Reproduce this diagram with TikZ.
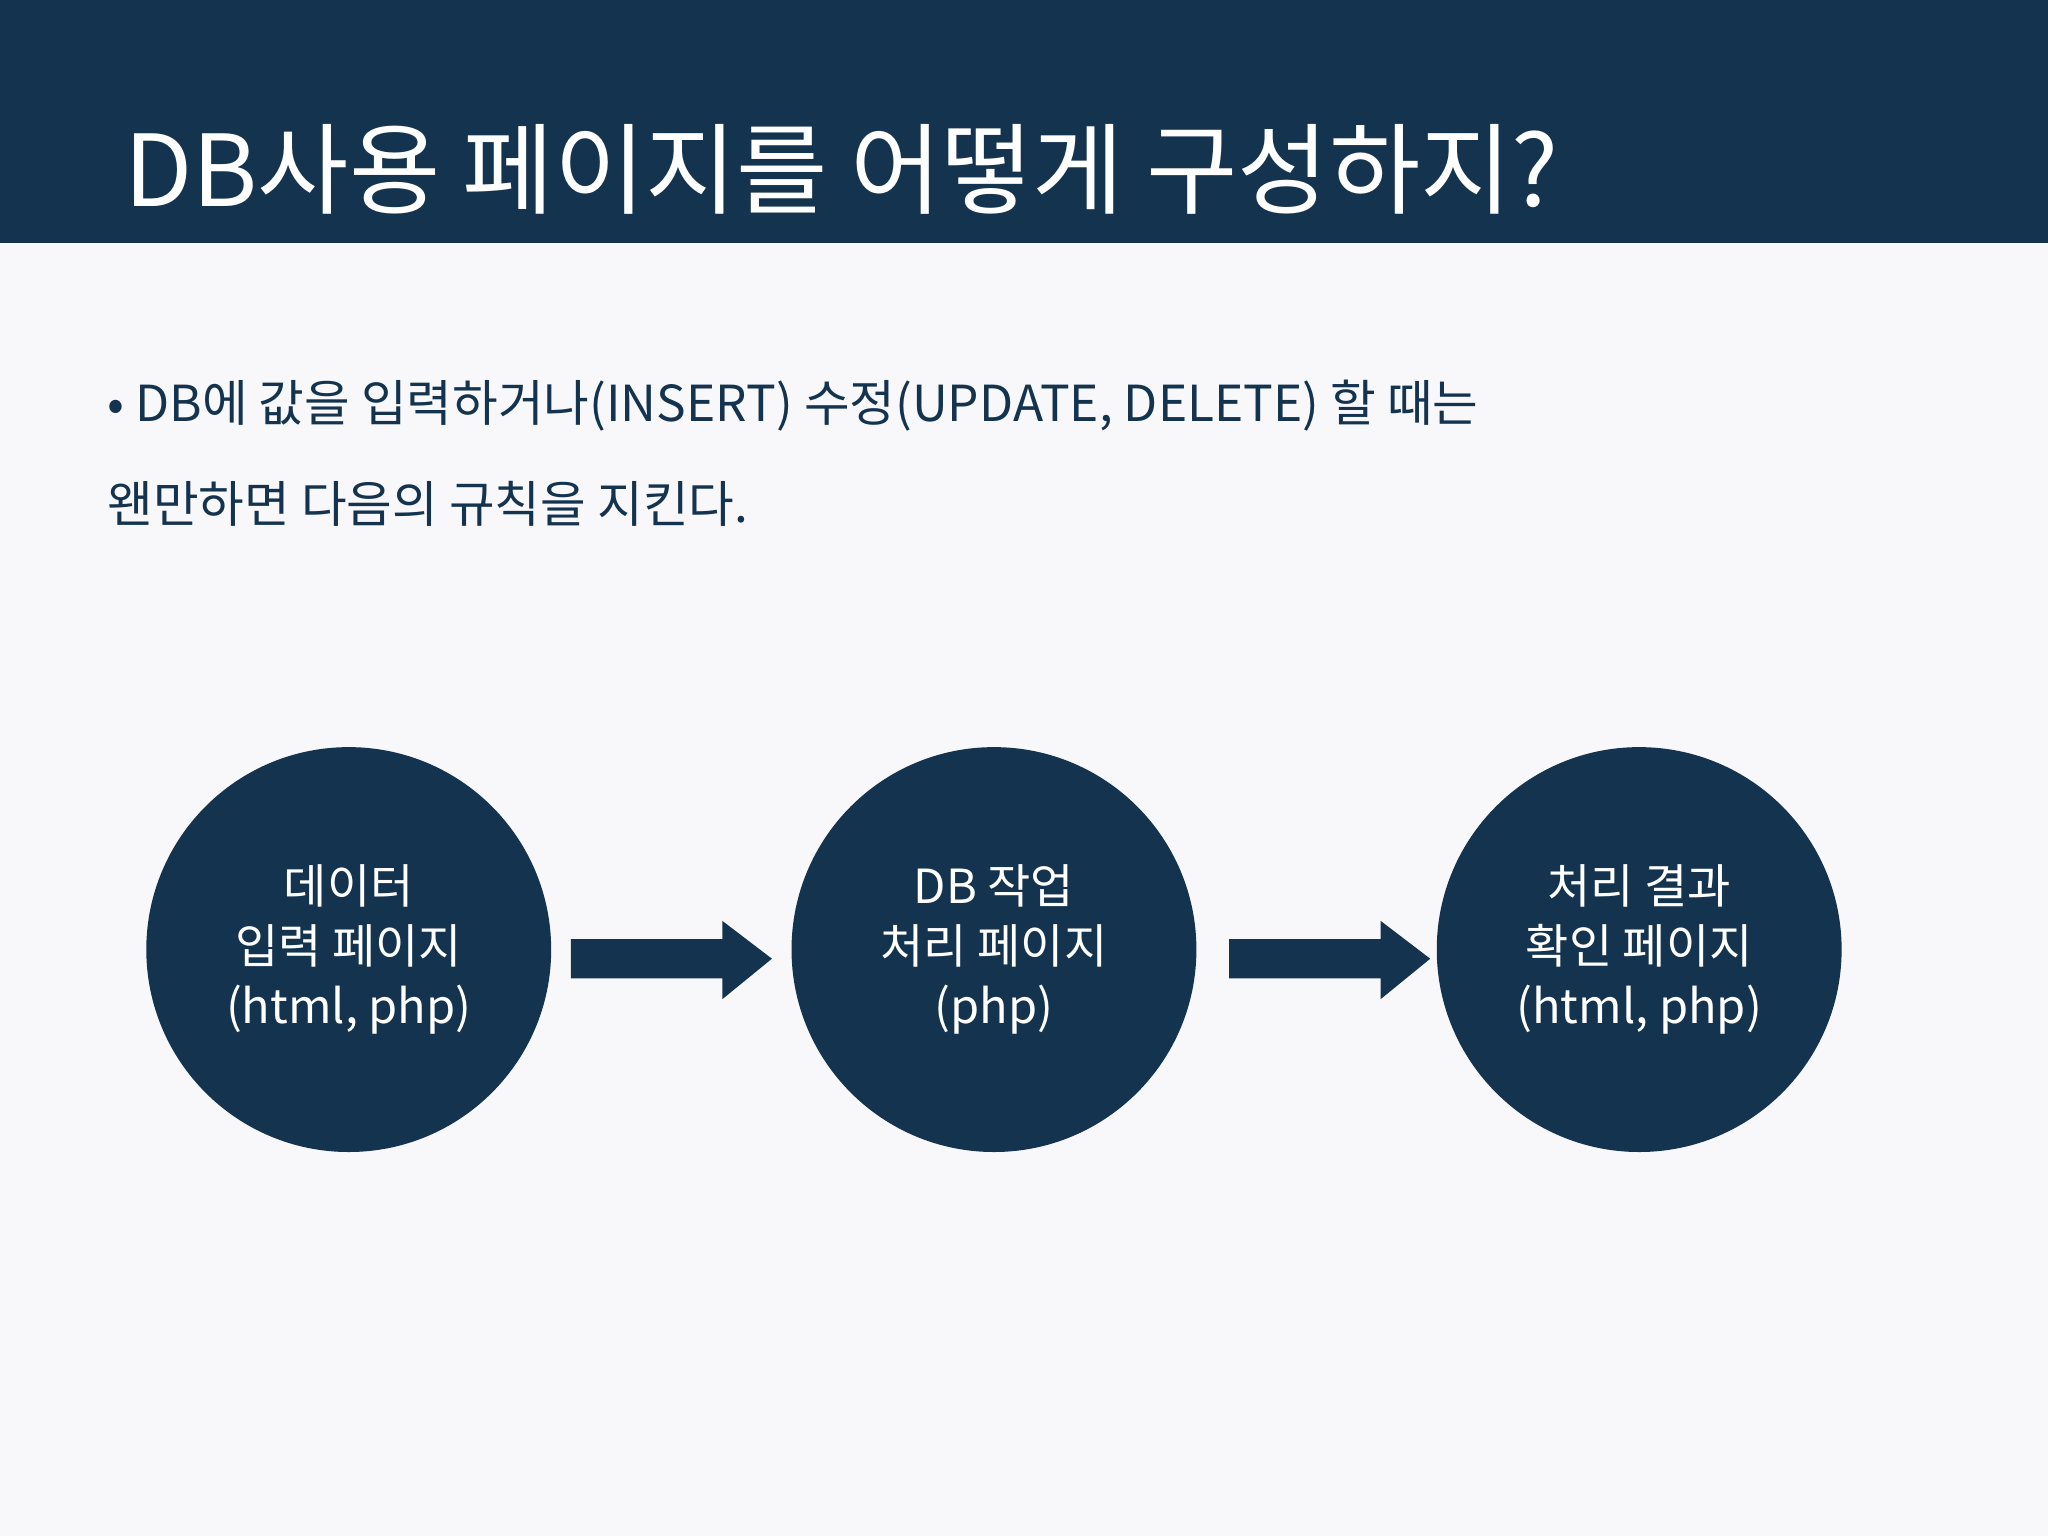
\documentclass[tikz,border=0pt]{standalone}
\usepackage{fontspec}
\setmainfont{Noto Sans CJK KR}
\usetikzlibrary{shapes.arrows}
\definecolor{navy}{HTML}{14334F}
\definecolor{bg}{HTML}{F8F8FB}
\begin{document}
\begin{tikzpicture}[x=1pt,y=-1pt,
  circ/.style={circle,fill=navy,minimum size=310pt,inner sep=0pt,text=white,align=center,font=\fontsize{36}{46}\selectfont},
  barrow/.style={single arrow,fill=navy,minimum height=154pt,minimum width=60pt,single arrow head extend=15pt,single arrow tip angle=90,inner sep=0pt,shape border uses incircle=false}]
\fill[bg] (0,0) rectangle (1568,1176);
\useasboundingbox (0,0) rectangle (1568,1176);
\fill[navy] (0,0) rectangle (1568,186);
\node[anchor=base west,text=white,inner sep=0pt,font=\fontsize{76}{80}\selectfont] (title) at (95,158) {DB사용 페이지를 어떻게 구성하지?};
\node[anchor=base west,text=navy,inner sep=0pt,font=\fontsize{38}{46}\selectfont] (l1) at (82,323) {• DB에 값을 입력하거나(INSERT) 수정(UPDATE, DELETE) 할 때는};
\node[anchor=base west,text=navy,inner sep=0pt,font=\fontsize{38}{46}\selectfont] (l2) at (82,400) {왠만하면 다음의 규칙을 지킨다.};
\node[circ] (c1) at (267,727) {데이터\\입력 페이지\\(html, php)};
\node[circ] (c2) at (761,727) {DB 작업\\처리 페이지\\(php)};
\node[circ] (c3) at (1255,727) {처리 결과\\확인 페이지\\(html, php)};
\fill[navy] (437,719) -- (553,719) -- (553,705) -- (591,734) -- (553,765) -- (553,749) -- (437,749) -- cycle;
\fill[navy] (941,719) -- (1057,719) -- (1057,705) -- (1095,734) -- (1057,765) -- (1057,749) -- (941,749) -- cycle;
\end{tikzpicture}
\end{document}
